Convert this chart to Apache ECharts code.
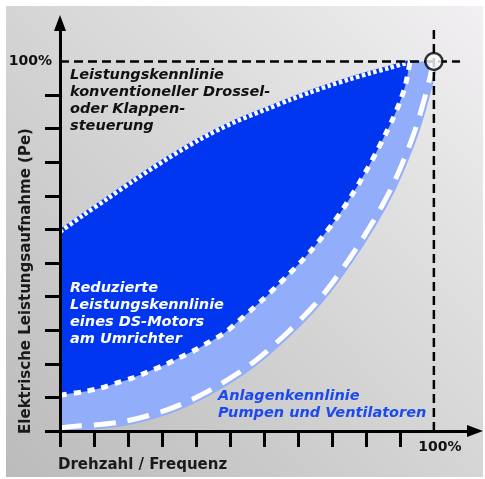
<!DOCTYPE html>
<html>
<head>
<meta charset="utf-8">
<script src="https://cdn.jsdelivr.net/npm/echarts@6/dist/echarts.min.js"></script>
<style>
html,body{margin:0;padding:0;background:#fff;}
#chart{width:485px;height:479px;}
</style>
</head>
<body>
<div id="chart"></div>
<script>
// Leistungskennlinie konventioneller Drossel- oder Klappensteuerung (x: % Drehzahl, y: % Leistung)
const xConv = [0, 6.1, 12.6, 19.5, 28.6, 37.4, 46.3, 55.3, 61.5, 66.8, 72.2, 77.5, 82.9, 88.2, 91.7, 93.6];
const yConv = [53.9, 58.3, 62.8, 67.6, 73.6, 78.9, 83.4, 87.1, 89.6, 91.6, 93.5, 95.2, 96.8, 98.3, 99.3, 99.9];
// Reduzierte Leistungskennlinie eines DS-Motors am Umrichter
const xDs = [0, 6.1, 10.7, 15.2, 19.3, 23.5, 28.1, 32.1, 36.1, 39.6, 44.1, 47.6, 51.3, 54.3, 58.0, 61.0, 64.2, 67.4, 70.3, 73.0, 75.7, 78.1, 80.2, 82.4, 84.8, 86.9, 89.0, 90.9, 92.2, 93.0, 93.6];
const yDs = [9.7, 10.6, 11.6, 13.0, 14.3, 16.0, 17.9, 19.9, 21.9, 23.9, 26.6, 29.6, 32.9, 35.6, 39.2, 42.2, 45.5, 49.1, 52.7, 56.2, 60.1, 63.9, 67.4, 71.3, 75.8, 80.0, 84.4, 89.0, 92.9, 96.5, 99.9];
// Anlagenkennlinie Pumpen und Ventilatoren
const xAnl = [0, 1.9, 16.0, 28.6, 39.3, 50.8, 61.0, 69.5, 77.0, 83.7, 88.5, 92.0, 95.0, 97.5, 100];
const yAnl = [0.8, 1.1, 2.4, 5.7, 10.6, 17.9, 26.8, 35.8, 46.0, 56.6, 65.5, 73.5, 81.5, 90.0, 100];
// Nennpunkt und Hilfslinien
const ratedPoint = [100, 100];
const guideHx = [0, 107];
const guideVy = [0, 108.5];
// Achsenteilung (11 Teile bis 100%)
const tickValues = [0, 9.09, 18.18, 27.27, 36.36, 45.45, 54.55, 63.64, 72.73, 81.82, 90.91];
const labelValues = [100];
const labelText = '100%';

const pairs = (xs, ys) => xs.map((x, i) => [x, ys[i]]);
const conv = pairs(xConv, yConv);
const ds = pairs(xDs, yDs);
const anl = pairs(xAnl, yAnl);

const BLUE = '#0036ef';
const LIGHT = '#92adf9';
const FONT = '"DejaVu Sans", "Noto Sans", sans-serif';
const bgGradient = () => new echarts.graphic.LinearGradient(6, 477, 483, 6, [
  { offset: 0, color: '#bbbbbb' },
  { offset: 0.5, color: '#d5d5d5' },
  { offset: 1, color: '#f2f0f2' }
], true);

const SMOOTH = 0.3;

function areaSeries(data, fill, z) {
  return {
    type: 'line', data: data, showSymbol: false, symbol: 'none', silent: true, z: z,
    smooth: SMOOTH,
    lineStyle: { width: 0, opacity: 0 },
    areaStyle: { color: fill, opacity: 1 }
  };
}

function lineSeries(data, color, width, type, z, smooth) {
  return {
    type: 'line', data: data, showSymbol: false, symbol: 'none', silent: true, z: z,
    smooth: smooth ? SMOOTH : false,
    lineStyle: { color: color, width: width, type: type, cap: 'butt' }
  };
}

const axisCommon = {
  type: 'value',
  min: 0,
  z: 6,
  splitLine: { show: false },
  axisLine: { show: true, lineStyle: { color: '#000', width: 3 }, symbol: ['none', 'triangle'], symbolSize: [12, 16] },
  axisTick: { show: true, customValues: tickValues, length: 15, inside: false, lineStyle: { color: '#000', width: 3 } },
  axisLabel: { customValues: labelValues, formatter: () => labelText, color: '#111', fontFamily: FONT, fontWeight: 'bold', fontSize: 14 }
};

const chart = echarts.init(document.getElementById('chart'), null, { renderer: 'canvas' });
chart.setOption({
  animation: false,
  backgroundColor: '#ffffff',
  grid: { left: 60, top: 23, width: 415, height: 408 },
  xAxis: Object.assign({}, axisCommon, {
    max: 111,
    axisTick: Object.assign({}, axisCommon.axisTick, { length: 16 }),
    axisLabel: Object.assign({}, axisCommon.axisLabel, { margin: 9, padding: [0, 0, 0, 12] })
  }),
  yAxis: Object.assign({}, axisCommon, {
    max: 110.4,
    axisLabel: Object.assign({}, axisCommon.axisLabel, { margin: 8 })
  }),
  graphic: [
    {
      type: 'rect', z: -10, silent: true,
      shape: { x: 6, y: 6, width: 477, height: 471 },
      style: { fill: bgGradient() }
    },
    {
      type: 'text', z: 100, silent: true, x: 70, y: 66.5,
      style: { text: 'Leistungskennlinie\nkonventioneller Drossel-\noder Klappen-\nsteuerung', fill: '#111', font: 'italic bold 14.5px ' + FONT, lineHeight: 17, textVerticalAlign: 'top' }
    },
    {
      type: 'text', z: 100, silent: true, x: 70, y: 279.5,
      style: { text: 'Reduzierte\nLeistungskennlinie\neines DS-Motors\nam Umrichter', fill: '#ffffff', font: 'italic bold 14.5px ' + FONT, lineHeight: 17, textVerticalAlign: 'top' }
    },
    {
      type: 'text', z: 100, silent: true, x: 218, y: 387.5,
      style: { text: 'Anlagenkennlinie\nPumpen und Ventilatoren', fill: '#1a4af0', font: 'italic bold 14.5px ' + FONT, lineHeight: 17, textVerticalAlign: 'top' }
    },
    {
      type: 'text', z: 100, silent: true, x: 58, y: 465,
      style: { text: 'Drehzahl / Frequenz', fill: '#1a1a1a', font: 'bold 15px ' + FONT, textAlign: 'left', textVerticalAlign: 'middle' }
    },
    {
      type: 'text', z: 100, silent: true, x: 26, y: 281, rotation: Math.PI / 2,
      style: { text: 'Elektrische Leistungsaufnahme (Pe)', fill: '#1a1a1a', font: 'bold 15px ' + FONT, textAlign: 'center', textVerticalAlign: 'middle' }
    }
  ],
  series: [
    areaSeries(conv, BLUE, 1),
    areaSeries(ds.concat([ratedPoint]), LIGHT, 2),
    areaSeries(anl, bgGradient(), 3),
    lineSeries(conv, BLUE, 4.5, 'solid', 4, true),
    lineSeries(anl, LIGHT, 9, 'solid', 4, true),
    lineSeries(conv, '#ffffff', 4.5, [3.5, 2.5], 5, true),
    lineSeries(ds, '#ffffff', 5, [7, 7], 5, true),
    lineSeries(anl, '#ffffff', 5, [22, 12], 5, true),
    lineSeries(pairs(guideHx, [ratedPoint[1], ratedPoint[1]]), '#000', 2.5, [9, 5], 7, false),
    lineSeries(pairs([ratedPoint[0], ratedPoint[0]], guideVy), '#000', 2.5, [9, 5], 7, false),
    {
      type: 'scatter', data: [ratedPoint], symbol: 'circle', symbolSize: 17, z: 10, silent: true,
      itemStyle: { color: '#ffffff', borderColor: '#000', borderWidth: 2.5 }
    }
  ]
});
</script>
</body>
</html>
